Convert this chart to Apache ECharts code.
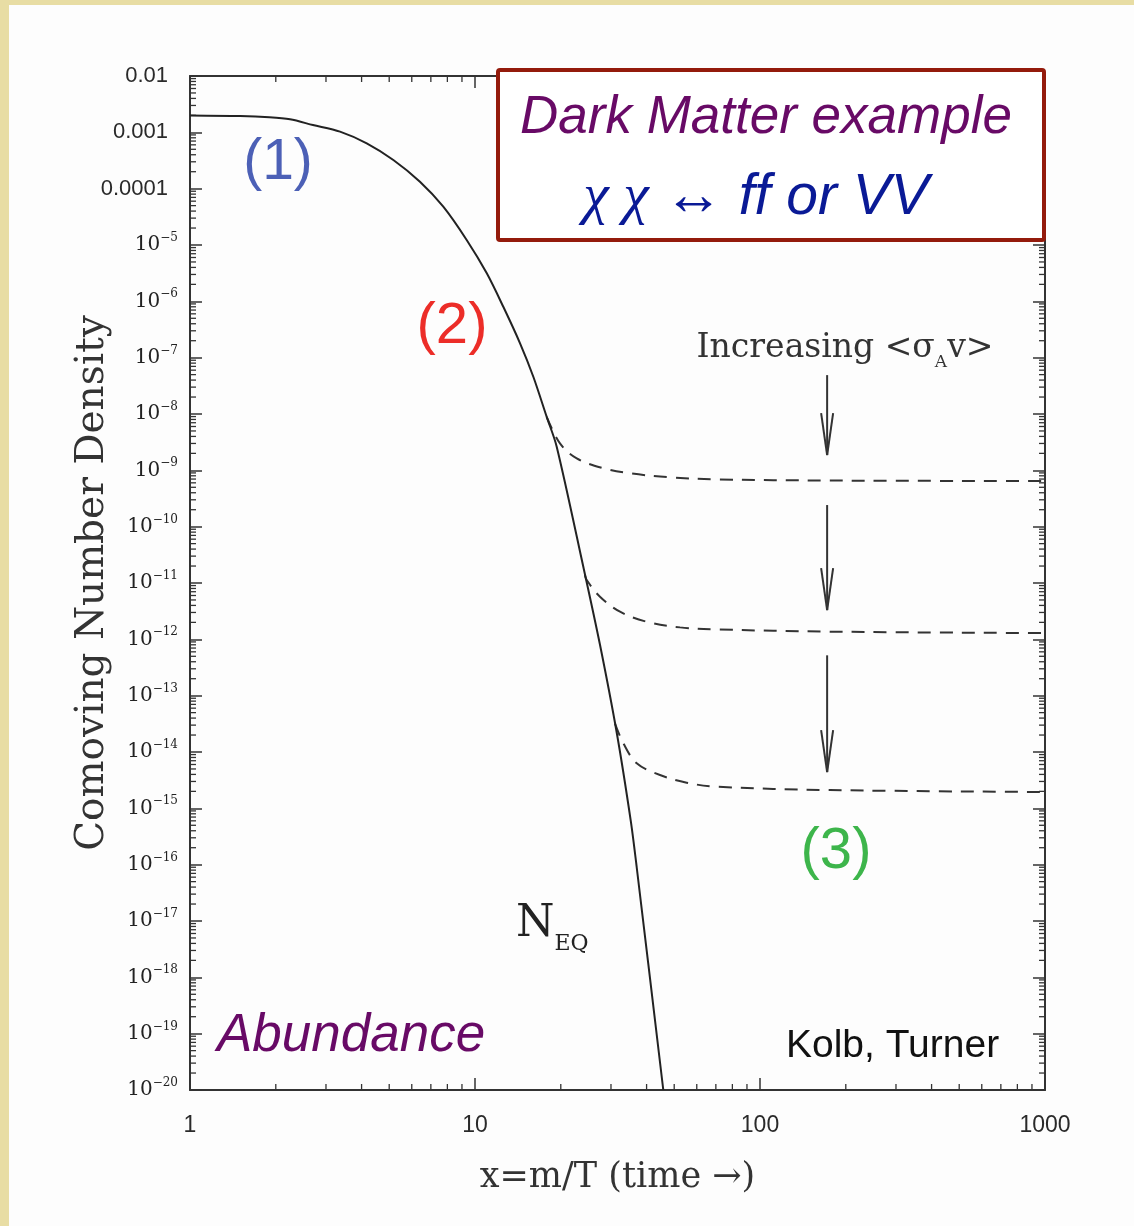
<!DOCTYPE html>
<html><head><meta charset="utf-8">
<script src="https://cdn.jsdelivr.net/npm/echarts@6/dist/echarts.min.js"></script>
<style>html,body{margin:0;padding:0;background:#fdfdfd}#c{width:1134px;height:1226px}</style>
</head><body><div id="c"></div>
<script>
// ---- tick labels ----
const xTickLabels = ['1', '10', '100', '1000'];               // exponents 0..3
const yTickLabels = ['0.01', '0.001', '0.0001', '10^-5', '10^-6', '10^-7', '10^-8', '10^-9', '10^-10',
  '10^-11', '10^-12', '10^-13', '10^-14', '10^-15', '10^-16', '10^-17', '10^-18', '10^-19', '10^-20']; // exponents -2..-20

// ---- equilibrium curve N_EQ (solid) ----
const eqX = [1, 1.5, 1.9, 2.244, 2.70, 3.36, 4.17, 5.17, 6.41, 7.74, 9.35, 11.0, 12.57, 14.39, 16.02, 17.85, 19.35, 23.99, 27.45, 31.43, 35.2, 36.93, 45.78];
const eqY = [2.0e-3, 1.95e-3, 1.85e-3, 1.70e-3, 1.35e-3, 1.03e-3, 6.38e-4, 3.23e-4, 1.33e-4, 4.79e-5, 1.23e-5, 3.14e-6, 8.0e-7, 1.80e-7, 4.59e-8, 8.9e-9, 2.63e-9, 1.94e-11, 8.0e-13, 2.2e-14, 6.0e-16, 9.0e-17, 1e-20];

// ---- freeze-out curves (dashed) ----
const d1X = [17.85, 19.87, 22.75, 28.19, 34.99, 48.33, 70.5, 176, 1000];
const d1Y = [8.9e-9, 3.01e-9, 1.63e-9, 1.09e-9, 8.85e-10, 7.52e-10, 6.92e-10, 6.59e-10, 6.46e-10];
const d2X = [24.3, 24.66, 27.45, 32.27, 40.04, 52.4, 70.5, 176, 1000];
const d2Y = [1.39e-11, 1.13e-11, 5.70e-12, 3.09e-12, 2.05e-12, 1.63e-12, 1.50e-12, 1.37e-12, 1.29e-12];
const d3X = [30.99, 33.15, 36.93, 44.58, 55.3, 70.5, 176, 1000];
const d3Y = [3.2e-14, 1.43e-14, 6.30e-15, 3.90e-15, 2.85e-15, 2.42e-15, 2.11e-15, 1.95e-15];

// ---- "increasing <sigma v>" arrows ----
const arrowX = [172, 172, 172];
const arrowTop = [4.9e-8, 2.42e-10, 5.2e-13];
const arrowBottom = [1.87e-9, 3.3e-12, 4.4e-15];

const pairs = (xs, ys) => xs.map((x, i) => [x, ys[i]]);

// minor tick positions (2..9 within each decade)
const xMinor = [], yMinor = [];
for (let e = 0; e < 3; e++) for (let m = 2; m <= 9; m++) xMinor.push([m * Math.pow(10, e), 1e-10]);
for (let e = -20; e < -2; e++) for (let m = 2; m <= 9; m++) yMinor.push([10, m * Math.pow(10, e)]);

const INK = '#333';
const chart = echarts.init(document.getElementById('c'), null, {renderer: 'canvas'});

function yFmt(v) {
  const e = Math.round(Math.log10(v));
  const t = yTickLabels[-2 - e];
  if (t === undefined) return '';
  if (t.indexOf('^') < 0) return '{d|' + t + '}';
  const p = t.split('^');
  return '{b|' + p[0] + '}{s|' + p[1].replace('-', '\u2212') + '}';
}
const yRich = {
  d: {fontFamily: 'Liberation Sans', fontSize: 22, color: '#2a2a2a', padding: [0, 10, 0, 0]},
  b: {fontFamily: 'DejaVu Serif', fontSize: 20, color: '#222', lineHeight: 26},
  s: {fontFamily: 'DejaVu Serif', fontSize: 12, color: '#222', lineHeight: 12, verticalAlign: 'top'}
};

const axisBase = {
  axisLine: {show: true, onZero: false, lineStyle: {color: INK, width: 2}},
  axisTick: {show: true, inside: true, length: 12, lineStyle: {color: INK, width: 1.5}},
  splitLine: {show: false},
  minorTick: {show: false}
};

function minorTickSeries(data, isX) {
  return {
    type: 'custom', data: data, silent: true, animation: false, clip: false, z: 3,
    renderItem: function (params, api) {
      const cs = params.coordSys;
      const p = api.coord([api.value(0), api.value(1)]);
      const st = {stroke: INK, lineWidth: 1.3};
      if (isX) {
        const b = cs.y + cs.height, t = cs.y;
        return {type: 'group', children: [
          {type: 'line', shape: {x1: p[0], y1: b, x2: p[0], y2: b - 6}, style: st},
          {type: 'line', shape: {x1: p[0], y1: t, x2: p[0], y2: t + 6}, style: st}
        ]};
      }
      const l = cs.x, r = cs.x + cs.width;
      return {type: 'group', children: [
        {type: 'line', shape: {x1: l, y1: p[1], x2: l + 6, y2: p[1]}, style: st},
        {type: 'line', shape: {x1: r, y1: p[1], x2: r - 6, y2: p[1]}, style: st}
      ]};
    }
  };
}

const option = {
  backgroundColor: '#fdfdfd',
  animation: false,
  grid: {left: 190, right: 89, top: 76, bottom: 136},
  xAxis: [
    Object.assign({}, axisBase, {
      type: 'log', logBase: 10, min: 1, max: 1000, interval: 1, splitNumber: 3, position: 'bottom',
      axisLabel: {margin: 24, fontFamily: 'Liberation Sans', fontSize: 23, color: '#2a2a2a',
        formatter: v => xTickLabels[Math.round(Math.log10(v))] || ''},
      name: 'x=m/T (time \u2192)', nameLocation: 'middle', nameGap: 70, nameMoveOverlap: false,
      nameTextStyle: {fontFamily: 'DejaVu Serif', fontSize: 35, color: INK}
    }),
    Object.assign({}, axisBase, {
      type: 'log', logBase: 10, min: 1, max: 1000, interval: 1, splitNumber: 3, position: 'top',
      axisLabel: {show: false}
    })
  ],
  yAxis: [
    Object.assign({}, axisBase, {
      type: 'log', logBase: 10, min: 1e-20, max: 0.01, interval: 1, splitNumber: 18, position: 'left',
      axisLabel: {margin: 12, formatter: yFmt, rich: yRich},
      name: 'Comoving Number Density', nameLocation: 'middle', nameGap: 78, nameMoveOverlap: false,
      nameTextStyle: {fontFamily: 'DejaVu Serif', fontSize: 39, color: INK}
    }),
    Object.assign({}, axisBase, {
      type: 'log', logBase: 10, min: 1e-20, max: 0.01, interval: 1, splitNumber: 18, position: 'right',
      axisLabel: {show: false}
    })
  ],
  series: [
    {type: 'line', name: 'N_EQ', data: pairs(eqX, eqY), showSymbol: false, smooth: 0.3,
      lineStyle: {color: '#222', width: 2}, z: 5},
    {type: 'line', data: pairs(d1X, d1Y), showSymbol: false, smooth: 0.35,
      lineStyle: {color: INK, width: 2, type: [13, 9]}, z: 4},
    {type: 'line', data: pairs(d2X, d2Y), showSymbol: false, smooth: 0.35,
      lineStyle: {color: INK, width: 2, type: [13, 9]}, z: 4},
    {type: 'line', data: pairs(d3X, d3Y), showSymbol: false, smooth: 0.35,
      lineStyle: {color: INK, width: 2, type: [13, 9]}, z: 4},
    {
      type: 'custom', silent: true, z: 6, clip: false,
      data: arrowX.map((x, i) => [x, arrowTop[i], arrowBottom[i]]),
      renderItem: function (params, api) {
        const a = api.coord([api.value(0), api.value(1)]);
        const b = api.coord([api.value(0), api.value(2)]);
        const st = {stroke: INK, lineWidth: 2};
        return {type: 'group', children: [
          {type: 'line', shape: {x1: a[0], y1: a[1], x2: b[0], y2: b[1]}, style: st},
          {type: 'line', shape: {x1: b[0], y1: b[1], x2: b[0] - 6, y2: b[1] - 42}, style: st},
          {type: 'line', shape: {x1: b[0], y1: b[1], x2: b[0] + 6, y2: b[1] - 42}, style: st}
        ]};
      }
    },
    minorTickSeries(xMinor, true),
    minorTickSeries(yMinor, false)
  ],
  graphic: [
    {type: 'rect', z: -10, shape: {x: 0, y: 0, width: 9, height: 1226}, style: {fill: '#E8DDA4'}},
    {type: 'rect', z: -10, shape: {x: 0, y: 0, width: 1134, height: 5}, style: {fill: '#E8DDA4'}},
    {type: 'rect', z: 100, shape: {x: 498, y: 70, width: 546, height: 170, r: 2},
      style: {fill: '#ffffff', stroke: '#941B0C', lineWidth: 4}},
    {type: 'text', z: 101, x: 766, y: 118, style: {text: 'Dark Matter example', fontFamily: 'Liberation Sans',
      fontStyle: 'italic', fontSize: 53, fill: '#680A66', align: 'center', verticalAlign: 'middle'}},
    {type: 'text', z: 101, x: 756, y: 198, style: {
      text: '{c|\u03C7 \u03C7}{a| \u2194 }{t|ff or VV}', align: 'center', verticalAlign: 'middle',
      rich: {
        c: {fontFamily: 'Liberation Serif', fontStyle: 'italic', fontSize: 58, fill: '#0A1A96', lineHeight: 64},
        a: {fontFamily: 'Liberation Serif', fontSize: 60, fill: '#0A1A96', lineHeight: 64},
        t: {fontFamily: 'Liberation Sans', fontStyle: 'italic', fontSize: 57, fill: '#0A1A96', lineHeight: 64}
      }}},
    {type: 'text', z: 50, x: 278, y: 163, style: {text: '(1)', fontFamily: 'Liberation Sans', fontSize: 57,
      fill: '#4C60B6', align: 'center', verticalAlign: 'middle'}},
    {type: 'text', z: 50, x: 452, y: 327, style: {text: '(2)', fontFamily: 'Liberation Sans', fontSize: 58,
      fill: '#EC2D28', align: 'center', verticalAlign: 'middle'}},
    {type: 'text', z: 50, x: 836, y: 852, style: {text: '(3)', fontFamily: 'Liberation Sans', fontSize: 58,
      fill: '#3DB54B', align: 'center', verticalAlign: 'middle'}},
    {type: 'text', z: 50, x: 845, y: 348, style: {
      text: '{m|Increasing <\u03C3}{s|A}{m|v>}', align: 'center', verticalAlign: 'middle',
      rich: {
        m: {fontFamily: 'DejaVu Serif', fontSize: 33, fill: INK, lineHeight: 46},
        s: {fontFamily: 'DejaVu Serif', fontSize: 17, fill: INK, lineHeight: 46, verticalAlign: 'bottom'}
      }}},
    {type: 'text', z: 50, x: 516, y: 925, style: {
      text: '{n|N}{s|EQ}', align: 'left', verticalAlign: 'middle',
      rich: {
        n: {fontFamily: 'DejaVu Serif', fontSize: 44, fill: '#222', lineHeight: 60},
        s: {fontFamily: 'DejaVu Serif', fontSize: 22, fill: '#222', lineHeight: 60, verticalAlign: 'bottom'}
      }}},
    {type: 'text', z: 50, x: 217, y: 1036, style: {text: 'Abundance', fontFamily: 'Liberation Sans',
      fontStyle: 'italic', fontSize: 53, fill: '#680A66', align: 'left', verticalAlign: 'middle'}},
    {type: 'text', z: 50, x: 786, y: 1046, style: {text: 'Kolb, Turner', fontFamily: 'Liberation Sans',
      fontSize: 39, fill: '#111', align: 'left', verticalAlign: 'middle'}}
  ]
};
chart.setOption(option);
</script>
</body></html>
